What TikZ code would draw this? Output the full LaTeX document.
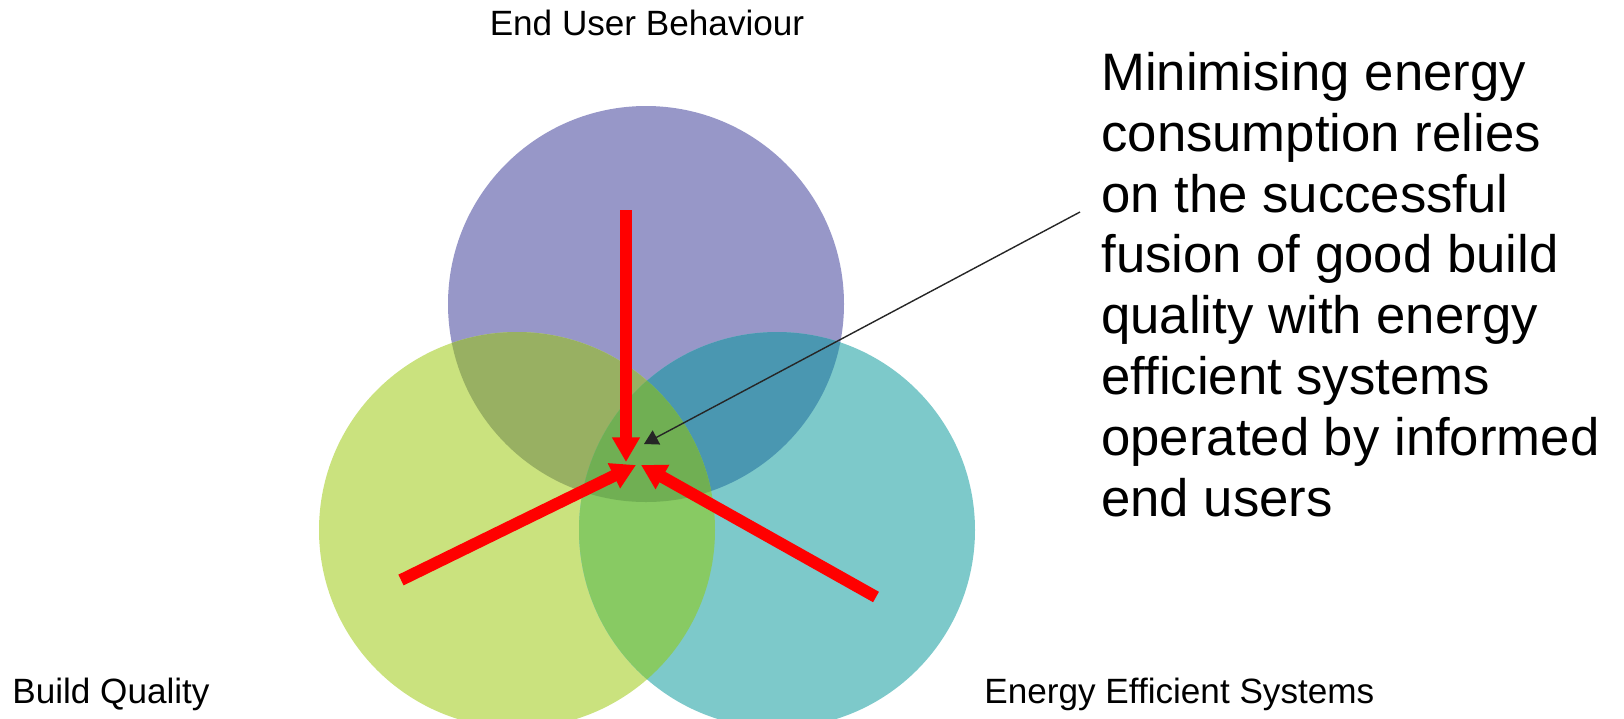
\documentclass[tikz,border=0pt]{standalone}
\usepackage{fontspec}
\setmainfont{Liberation Sans}
\usetikzlibrary{arrows.meta}

\definecolor{userpurple}{HTML}{9797C8}
\definecolor{buildgreen}{HTML}{CAE27E}
\definecolor{systemteal}{HTML}{7DC9CA}
\definecolor{userbuild}{HTML}{98B062}
\definecolor{usersystem}{HTML}{4A97B1}
\definecolor{buildsystem}{HTML}{88CA63}
\definecolor{allthree}{HTML}{70AF53}

\begin{document}
\begin{tikzpicture}[x=0.02cm, y=-0.02cm,
  caption/.style={font=\fontsize{20}{24}\selectfont, inner sep=0pt},
  push/.style={red, line width=6.8pt, -{Triangle[width=15pt,length=14pt]}}]

  \useasboundingbox (0,0) rectangle (1624,718);

  % Circle centres
  \coordinate (user) at (646,304);
  \coordinate (build) at (517,530);
  \coordinate (system) at (777,530);

  % The three circles
  \fill[userpurple] (user) circle[radius=198];
  \fill[buildgreen] (build) circle[radius=198];
  \fill[systemteal] (system) circle[radius=198];

  % Pairwise overlaps
  \begin{scope}
    \clip (user) circle[radius=198];
    \fill[userbuild] (build) circle[radius=198];
    \fill[usersystem] (system) circle[radius=198];
  \end{scope}
  \begin{scope}
    \clip (build) circle[radius=198];
    \fill[buildsystem] (system) circle[radius=198];
  \end{scope}
  % Common centre
  \begin{scope}
    \clip (user) circle[radius=198];
    \clip (build) circle[radius=198];
    \fill[allthree] (system) circle[radius=198];
  \end{scope}

  % Circle labels
  \node[caption] (userlabel) at (647,23) {End User Behaviour};
  \node[caption, anchor=west] (buildlabel) at (12,694) {Build Quality};
  \node[caption, anchor=west] (systemlabel) at (984,694) {Energy Efficient Systems};

  % Explanation
  \node[anchor=north west, align=left, inner sep=0pt,
    font=\fontsize{30}{34.6}\selectfont] (note) at (1101,52)
    {Minimising energy\\consumption relies\\on the successful\\fusion of good build\\quality with energy\\efficient systems\\operated by informed\\end users};

  % Red arrows meeting in the middle
  \coordinate (topstart) at (626,210);
  \coordinate (toptip) at (626,462);
  \coordinate (leftstart) at (401,580);
  \coordinate (lefttip) at (636,465);
  \coordinate (rightstart) at (876,597);
  \coordinate (righttip) at (641,465);
  \draw[push] (topstart) -- (toptip);
  \draw[push] (leftstart) -- (lefttip);
  \draw[push] (rightstart) -- (righttip);

  % Pointer from the text
  \coordinate (pointer) at (1080,212);
  \coordinate (centre) at (644,444);
  \draw[black!85, line width=0.8pt, -{Triangle[width=9pt,length=8pt]}] (pointer) -- (centre);

\end{tikzpicture}
\end{document}
